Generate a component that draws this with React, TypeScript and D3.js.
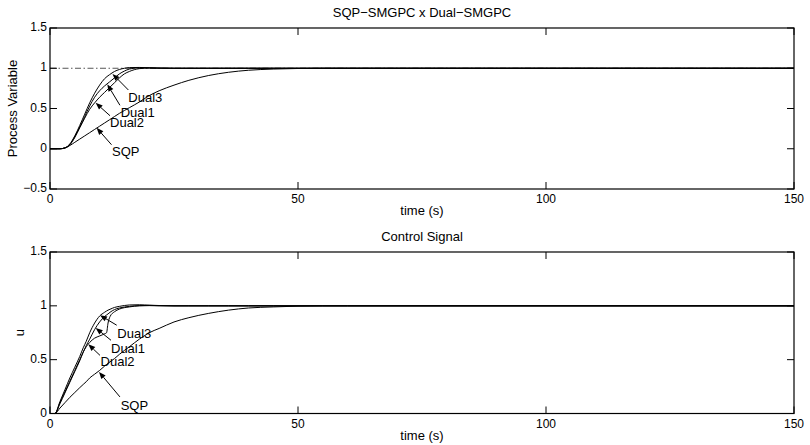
import React from 'react';
import * as d3 from 'd3';

// ---------- data ----------
const xTicks = [0, 50, 100, 150];
const pvTicks = [-0.5, 0, 0.5, 1, 1.5];
const uTicks = [0, 0.5, 1, 1.5];

// Process variable (top)
const tPV = [0, 2, 3, 4, 5, 6, 7, 8, 9, 10, 11, 12, 13, 14, 15, 16, 18, 20, 22, 25, 28, 32, 36, 40, 45, 50, 55, 60, 150];
const pvSQP = [0, 0, 0.01, 0.04, 0.08, 0.12, 0.16, 0.2, 0.24, 0.28, 0.32, 0.36, 0.4, 0.44, 0.475, 0.51, 0.58, 0.66, 0.72, 0.79, 0.85, 0.91, 0.95, 0.975, 0.99, 0.997, 1.0, 1.0, 1.0];
const pvDual3 = [0, 0, 0.01, 0.06, 0.16, 0.29, 0.43, 0.57, 0.69, 0.79, 0.87, 0.92, 0.96, 0.985, 1.0, 1.008, 1.01, 1.006, 1.002, 1.0, 1.0, 1.0, 1.0, 1.0, 1.0, 1.0, 1.0, 1.0, 1.0];
const pvDual1 = [0, 0, 0.01, 0.05, 0.15, 0.27, 0.4, 0.53, 0.64, 0.72, 0.78, 0.83, 0.88, 0.93, 0.965, 0.99, 1.005, 1.005, 1.002, 1.0, 1.0, 1.0, 1.0, 1.0, 1.0, 1.0, 1.0, 1.0, 1.0];
const pvDual2 = [0, 0, 0.01, 0.05, 0.14, 0.26, 0.38, 0.49, 0.57, 0.64, 0.7, 0.76, 0.82, 0.88, 0.93, 0.96, 0.995, 1.002, 1.001, 1.0, 1.0, 1.0, 1.0, 1.0, 1.0, 1.0, 1.0, 1.0, 1.0];
const setpointT = [0, 150];
const setpointV = [1, 1];

// Control signal (bottom)
const tU = [0, 1, 2, 3, 4, 5, 6, 6.7, 7.3, 8, 9, 10, 11, 11.4, 11.7, 12.1, 13, 14, 16, 18, 20, 22, 25, 28, 32, 36, 40, 45, 50, 55, 60, 150];
const uSQP = [0, 0, 0.05, 0.1, 0.15, 0.195, 0.24, 0.27, 0.295, 0.33, 0.365, 0.4, 0.44, 0.455, 0.465, 0.48, 0.51, 0.55, 0.62, 0.69, 0.75, 0.79, 0.85, 0.89, 0.93, 0.96, 0.98, 0.99, 0.997, 1.0, 1.0, 1.0];
const uDual3 = [0, 0, 0.11, 0.22, 0.33, 0.43, 0.53, 0.61, 0.67, 0.75, 0.84, 0.905, 0.94, 0.952, 0.96, 0.968, 0.985, 0.995, 1.008, 1.01, 1.006, 1.003, 1.0, 1.0, 1.0, 1.0, 1.0, 1.0, 1.0, 1.0, 1.0, 1.0];
const uDual1 = [0, 0, 0.1, 0.2, 0.3, 0.4, 0.5, 0.57, 0.63, 0.69, 0.78, 0.85, 0.9, 0.915, 0.925, 0.94, 0.965, 0.98, 0.995, 1.002, 1.004, 1.002, 1.0, 1.0, 1.0, 1.0, 1.0, 1.0, 1.0, 1.0, 1.0, 1.0];
const uDual2 = [0, 0, 0.09, 0.19, 0.29, 0.39, 0.49, 0.57, 0.62, 0.66, 0.7, 0.72, 0.74, 0.75, 0.84, 0.9, 0.945, 0.97, 0.99, 1.0, 1.002, 1.0, 1.0, 1.0, 1.0, 1.0, 1.0, 1.0, 1.0, 1.0, 1.0, 1.0];

// annotations: label position (left, baseline), arrow tail, arrow tip — in data units
const noteNames = ['Dual3', 'Dual1', 'Dual2', 'SQP'];
const pvLabelAt = [[15.8, 0.58], [14.25, 0.4], [12.1, 0.27], [12.5, -0.09]];
const pvTailAt = [[15.8, 0.73], [14.1, 0.54], [12.1, 0.41], [12.4, 0.05]];
const pvTipAt = [[12.6, 0.93], [11.55, 0.8], [9.2, 0.57], [9.4, 0.26]];
const uLabelAt = [[13.57, 0.7], [12.3, 0.563], [10.2, 0.44], [14.25, 0.037]];
const uTailAt = [[13.45, 0.82], [12.3, 0.68], [10.08, 0.54], [14.1, 0.154]];
const uTipAt = [[10.08, 0.913], [9.21, 0.795], [7.72, 0.643], [9.88, 0.386]];

// ---------- layout ----------
const W = 810;
const H = 445;
const X0 = 50;
const X1 = 794;
const FONT = '"Liberation Sans", Arial, Helvetica, sans-serif';

const fmt = (d: number) => String(d).replace('-', '\u2212');

type PanelProps = {
  top: number;
  bottom: number;
  yDomain: [number, number];
  yTicks: number[];
  title: string;
  ylabel: string;
  ylabelX: number;
  t: number[];
  series: number[][];
  refT?: number[];
  refV?: number[];
  labelAt: number[][];
  tailAt: number[][];
  tipAt: number[][];
};

function Panel(p: PanelProps) {
  const x = d3.scaleLinear().domain([0, 150]).range([X0, X1]);
  const y = d3.scaleLinear().domain(p.yDomain).range([p.bottom, p.top]);
  const tickLen = 7;
  const line = d3
    .line<[number, number]>()
    .x((d) => x(d[0]))
    .y((d) => y(d[1]))
    .curve(d3.curveMonotoneX);
  const midY = (p.top + p.bottom) / 2;
  const midX = (X0 + X1) / 2;

  const arrows = noteNames.map((name, i) => {
    const tx = x(p.tailAt[i][0]);
    const ty = y(p.tailAt[i][1]);
    const hx = x(p.tipAt[i][0]);
    const hy = y(p.tipAt[i][1]);
    const dx = hx - tx;
    const dy = hy - ty;
    const len = Math.hypot(dx, dy);
    const ux = dx / len;
    const uy = dy / len;
    const hl = 7;
    const hw = 2.8;
    const bx = hx - ux * hl;
    const by = hy - uy * hl;
    const head = `M${hx},${hy}L${bx - uy * hw},${by + ux * hw}L${bx + uy * hw},${by - ux * hw}Z`;
    return (
      <g key={name}>
        <line x1={tx} y1={ty} x2={bx} y2={by} stroke="#000" strokeWidth={1} />
        <path d={head} fill="#000" />
        <text x={x(p.labelAt[i][0])} y={y(p.labelAt[i][1])} fontSize={13} fontFamily={FONT}>
          {name}
        </text>
      </g>
    );
  });

  return (
    <g>
      {p.refT && p.refV && (
        <path
          d={line(p.refT.map((tt, i) => [tt, p.refV![i]]) as [number, number][]) || ''}
          fill="none"
          stroke="#555"
          strokeWidth={1}
          strokeDasharray="6,2.5,1.5,2.5"
        />
      )}
      {p.series.map((s, k) => (
        <path
          key={k}
          d={line(p.t.map((tt, i) => [tt, s[i]]) as [number, number][]) || ''}
          fill="none"
          stroke="#000"
          strokeWidth={1}
        />
      ))}
      {arrows}
      {/* box */}
      <rect x={X0} y={p.top} width={X1 - X0} height={p.bottom - p.top} fill="none" stroke="#000" strokeWidth={1.2} />
      {/* x ticks */}
      {xTicks.map((v) => (
        <g key={'x' + v}>
          <line x1={x(v)} x2={x(v)} y1={p.bottom} y2={p.bottom - tickLen} stroke="#000" strokeWidth={1} />
          <line x1={x(v)} x2={x(v)} y1={p.top} y2={p.top + tickLen} stroke="#000" strokeWidth={1} />
          <text x={x(v)} y={p.bottom + 14} textAnchor="middle" fontSize={12} fontFamily={FONT}>
            {fmt(v)}
          </text>
        </g>
      ))}
      {/* y ticks */}
      {p.yTicks.map((v) => (
        <g key={'y' + v}>
          <line x1={X0} x2={X0 + tickLen} y1={y(v)} y2={y(v)} stroke="#000" strokeWidth={1} />
          <line x1={X1} x2={X1 - tickLen} y1={y(v)} y2={y(v)} stroke="#000" strokeWidth={1} />
          <text x={X0 - 3} y={y(v) + 3} textAnchor="end" fontSize={12} fontFamily={FONT}>
            {fmt(v)}
          </text>
        </g>
      ))}
      <text x={midX} y={p.top - 11} textAnchor="middle" fontSize={13} fontFamily={FONT}>
        {p.title}
      </text>
      <text x={midX} y={p.bottom + 26} textAnchor="middle" fontSize={13} fontFamily={FONT}>
        time (s)
      </text>
      <text
        transform={`translate(${p.ylabelX},${midY}) rotate(-90)`}
        textAnchor="middle"
        fontSize={13}
        fontFamily={FONT}
      >
        {p.ylabel}
      </text>
    </g>
  );
}

export default function App() {
  return (
    <svg
      width={W}
      height={H}
      style={{ position: 'absolute', left: 0, top: 0, background: '#fff', display: 'block' }}
    >
      <rect width={W} height={H} fill="#fff" />
      <Panel
        top={28}
        bottom={189}
        yDomain={[-0.5, 1.5]}
        yTicks={pvTicks}
        title={'SQP\u2212SMGPC x Dual\u2212SMGPC'}
        ylabel="Process Variable"
        ylabelX={17}
        t={tPV}
        series={[pvSQP, pvDual3, pvDual1, pvDual2]}
        refT={setpointT}
        refV={setpointV}
        labelAt={pvLabelAt}
        tailAt={pvTailAt}
        tipAt={pvTipAt}
      />
      <Panel
        top={252}
        bottom={413.5}
        yDomain={[0, 1.5]}
        yTicks={uTicks}
        title="Control Signal"
        ylabel="u"
        ylabelX={24}
        t={tU}
        series={[uSQP, uDual3, uDual1, uDual2]}
        labelAt={uLabelAt}
        tailAt={uTailAt}
        tipAt={uTipAt}
      />
    </svg>
  );
}
